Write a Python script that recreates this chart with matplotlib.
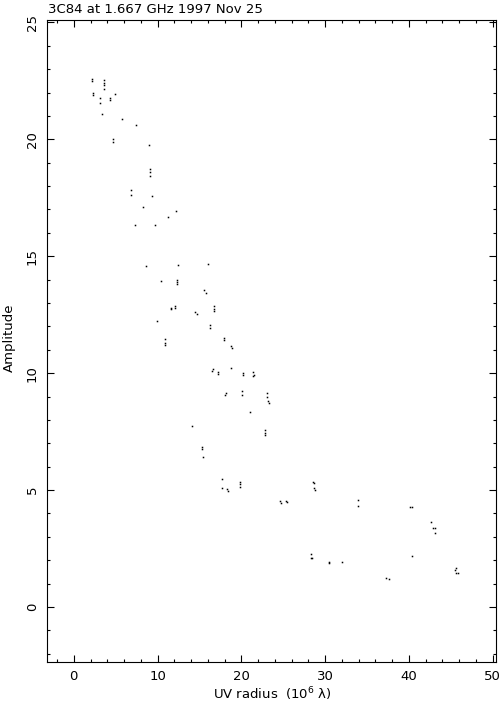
import matplotlib
matplotlib.use("Agg")
import matplotlib.pyplot as plt
from matplotlib.ticker import MultipleLocator

# UV radius (10^6 lambda) and amplitude of each visibility point
uv = [2.18, 2.18, 3.58, 3.58, 3.58, 3.58, 2.30, 2.30, 4.89, 3.10,
      4.30, 4.30, 3.10, 3.38, 5.81, 7.43, 4.69, 4.69, 8.99, 9.15,
      9.15, 9.15, 6.84, 6.84, 9.34, 8.27, 12.21, 11.30, 7.31, 9.75,
      8.63, 12.45, 16.03, 10.42, 12.33, 12.33, 12.33, 15.55, 15.75, 11.58,
      11.58, 12.09, 12.09, 14.47, 14.71, 16.79, 16.79, 16.79, 9.94, 16.31,
      16.31, 10.89, 10.89, 10.89, 17.94, 17.94, 18.77, 18.89, 16.47, 16.67,
      17.22, 17.22, 18.77, 20.20, 20.20, 21.44, 21.52, 21.44, 18.14, 18.06,
      20.08, 20.08, 23.03, 23.11, 23.19, 23.27, 21.00, 14.12, 22.83, 22.83,
      22.83, 15.31, 15.31, 15.39, 17.66, 17.70, 18.29, 18.41, 19.84, 19.84,
      19.84, 24.67, 24.79, 25.38, 25.45, 28.56, 28.68, 28.68, 28.79, 33.93,
      33.93, 40.13, 40.37, 42.60, 42.88, 43.08, 43.11, 28.37, 28.37, 28.44,
      30.47, 30.47, 32.06, 40.37, 37.32, 37.59, 45.50, 45.67, 45.67, 45.86]
amp = [22.56, 22.50, 22.53, 22.39, 22.30, 22.17, 21.99, 21.89, 21.92, 21.76,
       21.76, 21.67, 21.56, 21.06, 20.85, 20.60, 20.03, 19.88, 19.75, 18.71,
       18.61, 18.42, 17.85, 17.61, 17.56, 17.11, 16.92, 16.68, 16.32, 16.32,
       14.57, 14.61, 14.68, 13.93, 14.00, 13.91, 13.81, 13.54, 13.43, 12.79,
       12.74, 12.86, 12.79, 12.60, 12.54, 12.86, 12.76, 12.66, 12.21, 12.07,
       11.93, 11.46, 11.31, 11.20, 11.50, 11.40, 11.14, 11.07, 10.10, 10.19,
       10.07, 9.97, 10.22, 10.00, 9.94, 10.03, 9.92, 9.86, 9.17, 9.05,
       9.22, 9.08, 9.15, 9.00, 8.83, 8.72, 8.33, 7.72, 7.58, 7.44,
       7.35, 6.86, 6.76, 6.43, 5.47, 5.08, 5.04, 4.95, 5.36, 5.25,
       5.12, 4.54, 4.44, 4.55, 4.49, 5.34, 5.30, 5.11, 5.01, 4.58,
       4.31, 4.27, 4.27, 3.64, 3.37, 3.37, 3.15, 2.26, 2.08, 2.08,
       1.94, 1.87, 1.94, 2.18, 1.24, 1.19, 1.58, 1.66, 1.47, 1.47]

FS = 9.5

plt.rcParams["font.family"] = "DejaVu Sans"
plt.rcParams["font.size"] = FS

fig = plt.figure(figsize=(5.01, 7.04), dpi=100)
ax = fig.add_axes([47 / 501, 1 - 662 / 704, 449 / 501, 642 / 704])

ax.plot(uv, amp, linestyle="none", marker="s", markersize=1.1,
        markeredgewidth=0, color="black")

ax.set_xlim(-3.2, 50.4)
ax.set_ylim(-2.35, 25.1)

ax.xaxis.set_major_locator(MultipleLocator(10))
ax.xaxis.set_minor_locator(MultipleLocator(2))
ax.yaxis.set_major_locator(MultipleLocator(5))
ax.yaxis.set_minor_locator(MultipleLocator(1))

ax.tick_params(which="both", direction="in", top=True, right=True,
               width=0.8, color="black", labelsize=FS)
ax.tick_params(which="major", length=5, pad=6)
ax.tick_params(which="minor", length=2.5)
ax.tick_params(axis="y", labelrotation=90)
for lbl in ax.get_yticklabels():
    lbl.set_va("center")

for s in ax.spines.values():
    s.set_linewidth(0.8)

# подписи
fig.text(48 / 501, 1 - 13 / 704, "3C84 at 1.667 GHz 1997 Nov 25",
         ha="left", va="baseline", fontsize=FS)
fig.text(272 / 501, 1 - 694 / 704, "UV radius  (10$^6$ λ)",
         ha="center", va="center", fontsize=FS)
fig.text(9 / 501, 1 - 338 / 704, "Amplitude", rotation=90,
         ha="center", va="center", fontsize=FS)

fig.savefig("out.png", dpi=100, facecolor="white")
plt.close(fig)
